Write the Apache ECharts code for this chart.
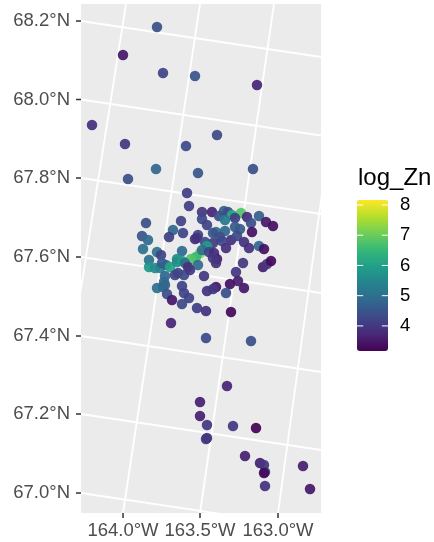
<!DOCTYPE html>
<html><head><meta charset="utf-8">
<style>html,body{margin:0;padding:0;background:#fff}#c{width:434px;height:542px}</style>
<script src="https://cdn.jsdelivr.net/npm/echarts@6/dist/echarts.min.js"></script>
</head><body><div id="c"></div>
<script>
// Map is a tilted projection: data are in projected map units (easting, northing),
// tick labels are where the graticule crosses the panel edge.
const easting = [
160,119,115,110,76,42,82,114,176,11,
44,105,136,75,117,172,47,106,108,121,
131,121,126,143,138,147,151,154,144,166,
178,170,185,192,154,159,171,65,61,67,
92,100,102,88,62,117,116,114,135,144,
132,139,150,156,141,163,168,178,183,145,
132,124,126,121,128,133,101,76,80,68,
68,74,79,81,85,89,96,96,101,104,
107,117,97,94,103,109,84,83,76,82,
84,101,103,86,91,108,101,116,125,90,
123,136,135,132,162,155,157,149,163,135,
126,132,145,150,182,186,190,125,170,146,
119,119,126,152,175,126,125,164,179,183,
184,183,184,222,229];
const northing = [
300,260,256,254,486,458,440,437,428,388,
369,367,378,344,340,344,334,320,307,301,
301,294,288,302,297,301,298,295,293,296,
297,290,291,287,286,284,281,290,277,273,
283,292,280,276,264,278,275,274,281,282,
280,276,273,277,272,271,265,267,264,265,
270,271,267,263,261,260,262,261,258,253,
246,245,245,250,248,246,254,251,252,250,
246,248,240,238,238,243,237,231,225,226,
228,227,220,219,213,215,209,205,202,190,
237,254,250,255,250,241,232,229,225,226,
222,224,220,201,246,249,252,175,172,127,
111,97,88,87,85,75,74,57,50,48,
41,40,27,47,24];
const logZn = [
6.8,7.2,6.5,6.8,4.4,3.5,4.2,4.5,3.7,3.9,
4.0,4.3,4.3,4.8,4.5,4.4,4.4,4.1,4.1,4.0,
3.7,4.3,4.2,4.7,4.4,4.3,6.2,4.1,5.2,3.8,
4.7,4.4,3.5,3.4,4.6,4.6,3.4,4.4,4.5,4.9,
4.8,4.2,4.2,4.1,5.0,4.2,4.0,3.9,5.0,4.8,
4.5,4.4,3.9,4.3,4.3,3.9,3.9,4.8,3.4,3.9,
4.1,4.3,5.9,5.0,4.2,3.8,4.9,5.1,4.2,5.0,
5.8,5.6,5.4,4.6,4.7,6.1,5.6,5.6,5.9,5.0,
3.9,4.9,4.2,4.2,4.3,4.0,4.8,4.9,5.0,4.9,
4.8,4.2,4.2,4.4,3.5,4.2,4.3,4.1,3.9,3.7,
4.0,3.6,3.9,4.0,4.0,4.0,3.6,3.4,3.5,3.5,
3.9,4.0,4.4,3.3,3.6,4.0,3.3,4.3,4.4,3.7,
3.6,3.6,4.0,4.0,3.2,3.9,4.0,3.6,3.6,4.0,
4.1,3.3,3.9,3.6,3.5];

const latLabels = ['68.2°N','68.0°N','67.8°N','67.6°N','67.4°N','67.2°N','67.0°N'];
const latTicks  = [492,413.5,335,256,177,99,20];
const lonLabels = ['164.0°W','163.5°W','163.0°W'];
const lonTicks  = [42,119,197];
// graticule meridians: easting at the bottom and at the top of the panel
const meridianBottom = [-35.5,42,119,197];
const meridianTop    = [45,119,193,267];
const parallelDrop = 36;
const panelWidth = 240, panelHeight = 509;

const zTicks = [4,5,6,7,8];
const zMin = 3.17, zMax = 8.165;
const viridis = ['#440154','#482878','#3E4989','#31688E','#26828E','#1F9E89','#35B779','#6ECE58','#B5DE2B','#FDE725'];

const points = easting.map((e,i)=>[e,northing[i],logZn[i]]);
const rule = (data,color,width,extra)=>({type:'line',symbol:'none',silent:true,animation:false,data,lineStyle:{color,width},...extra});
const tickLen = 5;
const onTickGrid = {xAxisIndex:2,yAxisIndex:2,z:2};
const onBarGrid = {xAxisIndex:1,yAxisIndex:1,z:10};
const graticule = [
  ...latTicks.map(n=>rule([[0,n],[panelWidth,n-parallelDrop]],'#fff',1.8,{z:1})),
  ...meridianBottom.map((b,i)=>rule([[b,0],[meridianTop[i],panelHeight]],'#fff',1.8,{z:1})),
  ...latTicks.map(n=>rule([[-tickLen,n],[0,n]],'#333',1.5,onTickGrid)),
  ...lonTicks.map(e=>rule([[e,-tickLen],[e,0]],'#333',1.5,onTickGrid)),
  ...zTicks.map(v=>rule([[0,v],[0.2,v]],'#fff',1,onBarGrid)),
  ...zTicks.map(v=>rule([[0.8,v],[1,v]],'#fff',1,onBarGrid))
];
const font = 'Liberation Sans';
const chart = echarts.init(document.getElementById('c'),null,{renderer:'canvas'});
chart.setOption({
  animation:false,
  backgroundColor:'#fff',
  title:{text:'log_Zn',left:358,top:166,padding:0,textStyle:{fontFamily:font,fontSize:24,fontWeight:'normal',color:'#000'}},
  grid:[
    {left:81,top:4,width:240,height:509,show:true,backgroundColor:'#EBEBEB',borderWidth:0},
    {left:357,top:200,width:31,height:151,show:false},
    {left:76,top:4,width:245,height:514,show:false}
  ],
  xAxis:[
    {type:'value',gridIndex:0,min:0,max:panelWidth,splitLine:{show:false},axisLine:{show:false},axisTick:{show:false},
     axisLabel:{customValues:lonTicks,margin:8,color:'#4D4D4D',fontFamily:font,fontSize:18.5,hideOverlap:false,
       formatter:v=>lonLabels[lonTicks.indexOf(v)]}},
    {type:'value',gridIndex:1,min:0,max:1,show:false},
    {type:'value',gridIndex:2,min:-tickLen,max:panelWidth,show:false}
  ],
  yAxis:[
    {type:'value',gridIndex:0,min:0,max:panelHeight,splitLine:{show:false},axisLine:{show:false},axisTick:{show:false},
     axisLabel:{customValues:latTicks,margin:11,color:'#4D4D4D',fontFamily:font,fontSize:18.5,hideOverlap:false,
       formatter:v=>latLabels[latTicks.indexOf(v)]}},
    {type:'value',gridIndex:1,min:zMin,max:zMax,position:'right',z:10,splitLine:{show:false},axisLine:{show:false},axisTick:{show:false},
     axisLabel:{customValues:zTicks,margin:12,color:'#000',fontFamily:font,fontSize:18.5,hideOverlap:false}},
    {type:'value',gridIndex:2,min:-tickLen,max:panelHeight,show:false}
  ],
  visualMap:{type:'continuous',min:zMin,max:zMax,dimension:2,seriesIndex:graticule.length,left:357,top:200,
    itemWidth:31,itemHeight:151,padding:0,calculable:false,hoverLink:false,realtime:false,text:null,
    inRange:{color:viridis},textStyle:{color:'transparent'}},
  series:[...graticule,
    {type:'scatter',data:points,symbol:'circle',symbolSize:10.5,z:3,silent:true,itemStyle:{opacity:0.93}}
  ]
});
</script></body></html>
